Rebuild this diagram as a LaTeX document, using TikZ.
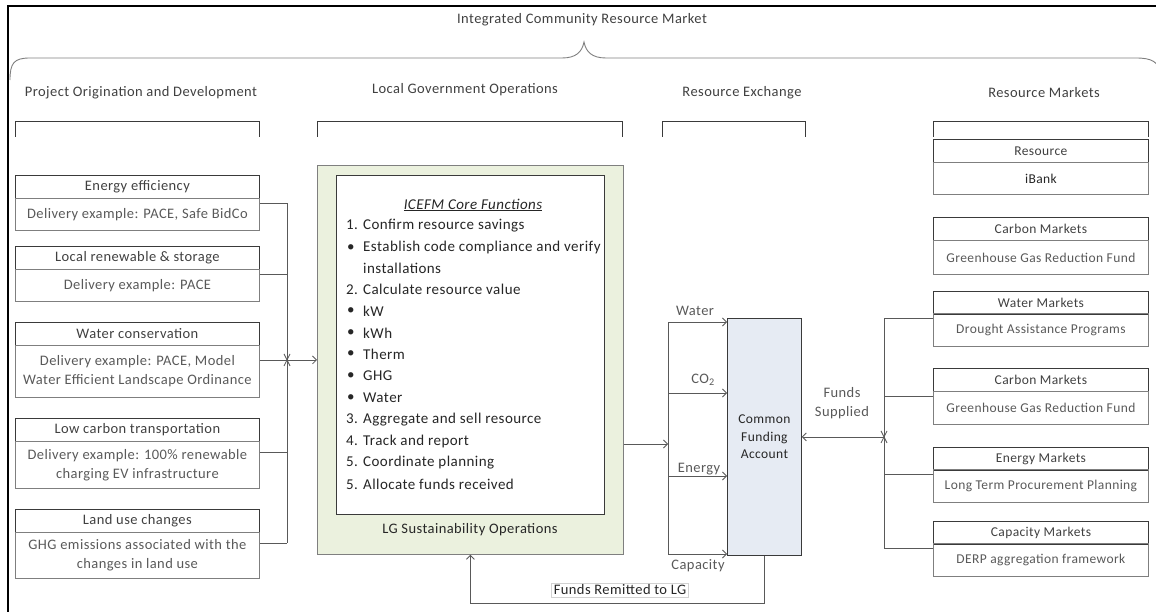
\documentclass[tikz,border=0pt]{standalone}
\usepackage{fontspec}
\setmainfont{Carlito}[LetterSpace=3]
\usetikzlibrary{arrows.meta}
\definecolor{txtd}{HTML}{404040}
\definecolor{txtl}{HTML}{595959}
\definecolor{txtk}{HTML}{262626}
\definecolor{bord}{HTML}{3A3A3A}
\definecolor{bordl}{HTML}{7F7F7F}
\definecolor{lin}{HTML}{595959}
\definecolor{greenf}{HTML}{EBF1DE}
\definecolor{bluef}{HTML}{E6EBF3}
\begin{document}
\begin{tikzpicture}[x=1pt,y=-1pt,
  font=\fontsize{14.5}{17}\selectfont,
  hdr/.style={text=txtd, inner sep=0},
  boxt/.style={draw=bord, line width=0.8pt, minimum height=23pt, inner sep=0, anchor=north west, text=txtd},
  boxb/.style={draw=bordl, line width=0.8pt, inner sep=0, anchor=north west, text=txtl, align=center, font=\fontsize{14.5}{19}\selectfont},
  lbox/.style={minimum width=244pt},
  rbox/.style={minimum width=215pt, font=\fontsize{13.5}{17}\selectfont},
  conn/.style={draw=lin, line width=0.8pt},
  arr/.style={conn, -{Straight Barb[length=4pt,width=8pt]}},
  fl/.style={anchor=west, inner sep=0, text=txtk, font=\fontsize{15}{18}\selectfont},
  lbl/.style={text=txtl, inner sep=0}
]
\useasboundingbox (0,0) rectangle (1156,612);
% outer frame
\draw[line width=1.8pt, black] (8,612) -- (8,6) -- (1160,6);
% title and brace
\node[hdr] (title) at (582,20) {Integrated Community Resource Market};
\draw[draw=bordl, line width=0.9pt] (10,80) .. controls (10,63) and (14,58) .. (30,58) -- (562,58)
  .. controls (576,58) and (582,52) .. (584,42) .. controls (586,52) and (592,58) .. (606,58)
  -- (1136,58) .. controls (1152,58) and (1158,62) .. (1160,72);
% section headers
\node[hdr] (h1) at (141,93) {Project Origination and Development};
\node[hdr] (h2) at (465,90) {Local Government Operations};
\node[hdr] (h3) at (742,93) {Resource Exchange};
\node[hdr] (h4) at (1044,93) {Resource Markets};
% section brackets
\draw[draw=bord, line width=0.8pt] (15,137) -- (15,121) -- (259,121) -- (259,137);
\draw[draw=bord, line width=0.8pt] (317,137) -- (317,121) -- (622,121) -- (622,137);
\draw[draw=bord, line width=0.8pt] (662,137) -- (662,121) -- (805,121) -- (805,137);
\draw[draw=bord, line width=0.8pt] (933,137) -- (933,121) -- (1148,121) -- (1148,137);
% left boxes
\node[boxt,lbox] (ee) at (15,175) {Energy efficiency};
\node[boxb,lbox,minimum height=32pt] (eeb) at (15,198) {Delivery example: PACE, Safe BidCo};
\node[boxt,lbox] (lr) at (15,246) {Local renewable \& storage};
\node[boxb,lbox,minimum height=32pt] (lrb) at (15,269) {Delivery example: PACE};
\node[boxt,lbox] (wc) at (15,322) {Water conservation};
\node[boxb,lbox,minimum height=52pt] (wcb) at (15,345) {Delivery example: PACE, Model\\Water Efficient Landscape Ordinance};
\node[boxt,lbox] (lc) at (15,418) {Low carbon transportation};
\node[boxb,lbox,minimum height=47pt] (lcb) at (15,441) {Delivery example: 100\% renewable\\charging EV infrastructure};
\node[boxt,lbox] (lu) at (15,509) {Land use changes};
\node[boxb,lbox,minimum height=46pt] (lub) at (15,532) {GHG emissions associated with the\\changes in land use};
% green operations box
\node[draw=bordl, fill=greenf, line width=0.8pt, minimum width=306pt, minimum height=389pt, anchor=north west, inner sep=0] (green) at (317,165) {};
\node[draw=bord, fill=white, line width=0.8pt, minimum width=268pt, minimum height=339pt, anchor=north west, inner sep=0] (inner) at (336,175) {};
\node[hdr, text=txtk] (lgso) at (470,530) {LG Sustainability Operations};
\node[inner sep=0, text=txtk, font=\fontsize{15}{18}\selectfont\itshape] (f0) at (473,205) {\underline{ICEFM Core Functions}};
\node[fl] (f1) at (346,226) {1. Confirm resource savings};
\node[fl] (b2) at (347,248) {\textbullet};
\node[fl] (f2) at (363,248) {Establish code compliance and verify};
\node[fl] (f3) at (363,268) {installations};
\node[fl] (f4) at (346,289) {2. Calculate resource value};
\node[fl] (b5) at (347,311) {\textbullet};
\node[fl] (f5) at (363,311) {kW};
\node[fl] (b6) at (347,333) {\textbullet};
\node[fl] (f6) at (363,333) {kWh};
\node[fl] (b7) at (347,354) {\textbullet};
\node[fl] (f7) at (363,354) {Therm};
\node[fl] (b8) at (347,376) {\textbullet};
\node[fl] (f8) at (363,376) {GHG};
\node[fl] (b9) at (347,398) {\textbullet};
\node[fl] (f9) at (363,398) {Water};
\node[fl] (f10) at (346,420) {3. Aggregate and sell resource};
\node[fl] (f11) at (346,441) {4. Track and report};
\node[fl] (f12) at (346,463) {5. Coordinate planning};
\node[fl] (f13) at (346,484) {5. Allocate funds received};
% left connectors
\coordinate (lt) at (287,203);
\coordinate (lb) at (287,543);
\coordinate (p1) at ([yshift=-5pt]eeb.north east);
\coordinate (p2) at ([yshift=-5pt]lrb.north east);
\coordinate (p3) at (wcb.east |- green.west);
\coordinate (p4) at ([yshift=-11pt]lcb.north east);
\coordinate (p5) at ([yshift=-11pt]lub.north east);
\coordinate (jl) at (lt |- green.west);
\draw[conn] (p1) -- (lt) -- (lb);
\draw[conn] (p2) -- (p2 -| lt);
\draw[conn] (p3) -- (jl);
\draw[conn] (p4) -- (p4 -| lt);
\draw[conn] (p5) -- (lb);
\draw[arr] (jl) -- (green.west);
\draw[conn] ([shift={(-3,-6)}]jl) -- ([shift={(3,6)}]jl);
\draw[conn] ([shift={(3,-6)}]jl) -- ([shift={(-3,6)}]jl);
% resource exchange
\node[draw=bord, fill=bluef, line width=0.8pt, minimum width=74pt, minimum height=237pt, anchor=north west, inner sep=0] (cfa) at (727,318) {};
\node[align=center, inner sep=0, text=txtk, font=\fontsize{13.5}{17.5}\selectfont] (cfat) at (cfa.center) {Common\\Funding\\Account};
\coordinate (xm) at (668,444);
\coordinate (xw) at (668,322);
\coordinate (xc) at (668,393);
\coordinate (xe) at (668,476);
\coordinate (xp) at (668,554);
\draw[arr] (xm -| green.east) -- (xm);
\draw[conn] (xw) -- (xp);
\draw[arr] (xw) -- (xw -| cfa.west);
\draw[arr] (xc) -- (xc -| cfa.west);
\draw[arr] (xe) -- (xe -| cfa.west);
\draw[arr] (xp) -- (xp -| cfa.west);
\node[lbl] (lw) at (695,311) {Water};
\node[lbl] (lco) at (703,380) {CO\textsubscript{2}};
\node[lbl] (len) at (699,469) {Energy};
\node[lbl] (lcap) at (698,566) {Capacity};
% funds remitted
\coordinate (fr1) at ([yshift=-48pt]cfa.south);
\draw[arr] (cfa.south) -- (fr1) -| (green.south);
\node[draw=gray!35, fill=white, line width=0.6pt, inner sep=2pt, text=txtk] (frl) at (620,590) {Funds Remitted to LG};
% right boxes
\node[boxt,rbox] (r1) at (933,139) {Resource};
\node[boxb,rbox,minimum height=32pt,text=txtk] (r1b) at (933,162) {iBank};
\node[boxt,rbox] (r2) at (933,217) {Carbon Markets};
\node[boxb,rbox,minimum height=34pt] (r2b) at (933,240) {Greenhouse Gas Reduction Fund};
\node[boxt,rbox] (r3) at (933,291) {Water Markets};
\node[boxb,rbox,minimum height=33pt] (r3b) at (933,313) {Drought Assistance Programs};
\node[boxt,rbox] (r4) at (933,368) {Carbon Markets};
\node[boxb,rbox,minimum height=33pt] (r4b) at (933,391) {Greenhouse Gas Reduction Fund};
\node[boxt,rbox] (r5) at (933,447) {Energy Markets};
\node[boxb,rbox,minimum height=33pt] (r5b) at (933,469) {Long Term Procurement Planning};
\node[boxt,rbox] (r6) at (933,521) {Capacity Markets};
\node[boxb,rbox,minimum height=33pt] (r6b) at (933,543) {DERP aggregation framework};
% right connectors
\coordinate (q3) at ([yshift=-5pt]r3b.north west);
\coordinate (q4) at ([yshift=-5pt]r4b.north west);
\coordinate (q5) at ([yshift=-5pt]r5b.north west);
\coordinate (q6) at ([yshift=-5pt]r6b.north west);
\coordinate (rt) at (884,318);
\coordinate (rb) at (884,548);
\coordinate (jr) at (rt |- cfa.east);
\draw[conn] (q3) -- (rt) -- (rb) -- (q6);
\draw[conn] (q4) -- (q4 -| rt);
\draw[conn] (q5) -- (q5 -| rt);
\draw[arr] (jr) -- (cfa.east);
\draw[conn] ([shift={(-3,-6)}]jr) -- ([shift={(3,6)}]jr);
\draw[conn] ([shift={(3,-6)}]jr) -- ([shift={(-3,6)}]jr);
\node[lbl, align=center, font=\fontsize{14.5}{19}\selectfont] (fs) at (842,403) {Funds\\Supplied};
\end{tikzpicture}
\end{document}
